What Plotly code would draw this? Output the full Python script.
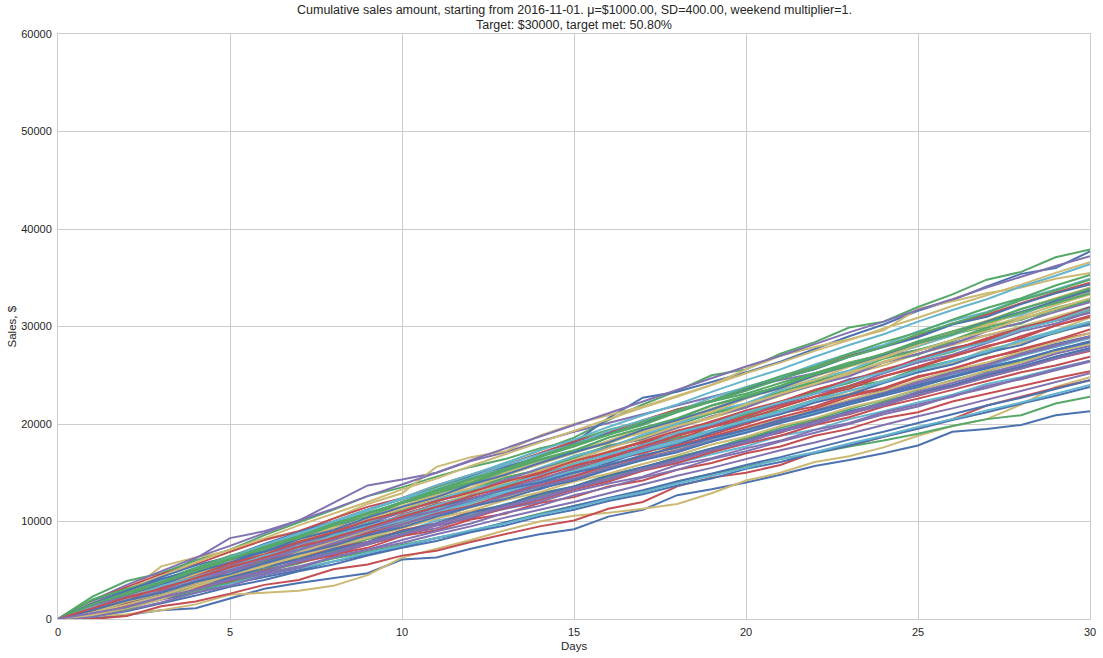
import plotly.graph_objects as go

days = list(range(31))
x_ticks = [0, 5, 10, 15, 20, 25, 30]
y_ticks = [0, 10000, 20000, 30000, 40000, 50000, 60000]
y_tick_labels = ["0", "10000", "20000", "30000", "40000", "50000", "60000"]

# Lines read/ (cumulative sales, $)
L1 = [0, 1500, 3000, 4300, 6200, 8300, 9000, 10100, 11900, 13700, 14300, 15000, 16200, 17100, 18200, 19200, 20100, 21000, 21900, 22800, 23700, 24500, 25200, 26000, 26900, 27600, 28300, 29100, 29800, 30600, 31400]
L2 = [0, 2300, 3900, 4700, 6000, 7100, 8600, 9900, 11200, 12600, 13500, 14600, 15600, 16400, 17500, 18300, 19400, 20300, 21500, 22300, 23100, 24200, 25200, 26300, 27100, 28000, 29200, 30000, 30800, 31700, 32600]
L3 = [0, 1300, 2600, 3800, 5000, 6300, 7500, 8600, 9800, 11200, 12400, 13500, 14700, 16000, 17300, 18600, 20400, 22000, 23400, 25000, 25600, 27200, 28400, 29900, 30500, 32000, 33300, 34800, 35600, 37100, 37900]
L4 = [0, 1100, 2300, 3600, 4800, 5900, 7100, 8200, 9300, 10700, 11900, 12800, 14100, 15400, 16700, 18100, 20600, 22700, 23300, 24300, 25300, 26400, 27700, 29000, 30200, 31600, 32700, 34100, 35400, 36000, 37700]
L5 = [0, 1200, 2500, 3700, 5100, 6300, 7400, 8800, 10300, 11800, 12900, 15600, 16600, 17200, 18800, 20000, 20900, 21800, 22900, 24000, 25600, 27000, 27900, 28700, 29600, 31800, 32600, 33400, 34000, 34900, 35500]
L6 = [0, 1000, 2700, 5400, 6300, 7000, 8200, 9000, 10000, 11200, 12300, 13200, 14100, 15200, 16300, 17100, 18200, 19100, 20200, 21200, 22000, 23100, 24300, 25100, 26000, 27200, 28100, 29100, 30000, 31000, 32000]
B1 = [0, 100, 400, 900, 1100, 2100, 3100, 3700, 4200, 4700, 6100, 6300, 7200, 8000, 8700, 9200, 10500, 11200, 12700, 13300, 14000, 14800, 15700, 16300, 17000, 17800, 19200, 19500, 19900, 20900, 21300]
B2 = [0, 300, 500, 900, 1500, 2500, 2700, 2900, 3400, 4500, 6300, 7200, 8100, 9100, 10000, 10600, 10900, 11300, 11800, 12900, 14200, 15000, 16100, 16700, 17600, 18800, 19800, 20500, 22000, 23800, 24800]
B3 = [0, 600, 1400, 2200, 3100, 3700, 4700, 5300, 6200, 6900, 7600, 8300, 9000, 9900, 10800, 11600, 12300, 13000, 14100, 14900, 15600, 16400, 17000, 17700, 18300, 19000, 19800, 20500, 20900, 22100, 22800]
B4 = [0, 0, 300, 1300, 1800, 2600, 3500, 4000, 5100, 5600, 6500, 7000, 7900, 8700, 9500, 10100, 11300, 12000, 13600, 14500, 15000, 15800, 17100, 17800, 18700, 19600, 20500, 21900, 22800, 23700, 24500]

I1 = [0, 1300, 2100, 3500, 4200, 5600, 6300, 7000, 8400, 9300, 10100, 11500, 12200, 13400, 14100, 15500, 16200, 17400, 18600, 19300, 20700, 21400, 22500, 23800, 24400, 25700, 26500, 27200, 28600, 29300, 30400]
I2 = [0, 800, 2000, 2700, 3900, 4600, 5900, 7200, 7800, 8900, 10200, 11000, 11700, 12900, 14200, 14900, 16300, 17100, 17800, 19200, 20100, 21300, 22400, 23100, 24500, 25300, 26200, 27700, 28300, 29600, 30900]
I3 = [0, 1500, 2400, 3200, 4700, 5900, 6600, 7900, 9100, 9800, 11200, 12400, 13100, 14500, 15300, 16500, 17800, 18400, 19900, 21100, 21800, 23000, 24300, 25100, 26400, 27100, 28500, 29700, 30300, 31800, 32700]
I4 = [0, 600, 1700, 2300, 3100, 4300, 5000, 5800, 6900, 7600, 8700, 9300, 10500, 11300, 12000, 13100, 13900, 14600, 15800, 16500, 17500, 18300, 19400, 20100, 21200, 22000, 22800, 23900, 24600, 25500, 26400]
I5 = [0, 1000, 1800, 3100, 3900, 4800, 6200, 7000, 8300, 9000, 10400, 11300, 12700, 13500, 14700, 15800, 16500, 17900, 18800, 20100, 21200, 22000, 23300, 24600, 25300, 26700, 27800, 28500, 29900, 30700, 32000]
I6 = [0, 1200, 2300, 3200, 4400, 5100, 6000, 7300, 8100, 9400, 10100, 11200, 12000, 13300, 14000, 15100, 16300, 17000, 18100, 18900, 20000, 21100, 21800, 23000, 23700, 24900, 25600, 26800, 27500, 28600, 29300]
I7 = [0, 900, 2200, 3300, 4300, 5500, 6700, 7500, 8800, 10000, 10900, 12200, 13300, 14100, 15500, 16700, 17600, 18900, 20000, 21300, 22100, 23500, 24600, 25500, 26900, 28000, 29100, 30400, 31200, 32600, 33500]
I8 = [0, 700, 1400, 2500, 3300, 4400, 5100, 6300, 7000, 8200, 8900, 9800, 11000, 11700, 12900, 13600, 14800, 15500, 16600, 17400, 18600, 19300, 20500, 21100, 22300, 23200, 23900, 25100, 25800, 26900, 27700]
I9 = [0, 1400, 2600, 3700, 4600, 5900, 7000, 8100, 9300, 10200, 11500, 12600, 13400, 14800, 15900, 17100, 18000, 19300, 20400, 21200, 22600, 23700, 24500, 25900, 26800, 28100, 29300, 30100, 31500, 32400, 33600]
I10 = [0, 1100, 1800, 2900, 3600, 4700, 5500, 6600, 7300, 8500, 9600, 10300, 11500, 12600, 13300, 14400, 15600, 16300, 17500, 18200, 19400, 20500, 21200, 22400, 23500, 24300, 25400, 26100, 27300, 28200, 29000]
I11 = [0, 500, 1300, 2000, 3200, 3900, 5000, 5800, 6500, 7700, 8500, 9600, 10300, 11400, 12200, 13300, 14100, 15200, 16000, 17100, 18000, 18800, 19900, 20700, 21800, 22600, 23500, 24400, 25300, 26000, 26900]
I12 = [0, 1700, 2800, 4000, 5100, 6000, 7300, 8400, 9500, 10700, 11600, 12800, 13900, 15000, 16200, 17100, 18300, 19500, 20300, 21600, 22700, 23700, 24900, 26000, 27000, 28200, 29300, 30300, 31400, 32600, 33800]
I13 = [0, 1000, 2100, 2800, 4000, 5200, 5900, 7100, 8000, 8800, 10000, 10900, 12100, 12900, 14000, 15200, 16000, 17200, 17900, 19100, 20200, 21000, 22200, 23000, 24200, 25300, 26100, 27300, 28100, 29400, 30200]
I14 = [0, 800, 1900, 3000, 3800, 4900, 6100, 6900, 8100, 9200, 10000, 11300, 12400, 13200, 14400, 15300, 16500, 17500, 18400, 19700, 20500, 21700, 22800, 23600, 24900, 25800, 26900, 28000, 28800, 30100, 31100]
I15 = [0, 1300, 2400, 3400, 4500, 5700, 6800, 8000, 9100, 10300, 11300, 12400, 13700, 14700, 15900, 17000, 18200, 19300, 20500, 21400, 22700, 23800, 24900, 26200, 27100, 28400, 29500, 30600, 31800, 32900, 34000]
I16 = [0, 900, 1600, 2600, 3500, 4200, 5300, 6100, 7100, 7900, 9000, 9800, 10900, 11700, 12800, 13600, 14700, 15600, 16500, 17500, 18300, 19400, 20200, 21300, 22100, 23200, 24000, 25000, 25900, 26900, 27800]
I17 = [0, 1100, 2000, 3300, 4100, 5400, 6300, 7400, 8600, 9400, 10700, 11800, 12600, 13900, 14900, 15800, 17100, 18100, 19000, 20300, 21300, 22200, 23500, 24500, 25400, 26700, 27600, 28800, 29800, 30800, 31900]
I18 = [0, 600, 1500, 2400, 3500, 4600, 5400, 6500, 7600, 8400, 9500, 10600, 11400, 12500, 13500, 14400, 15500, 16600, 17400, 18500, 19600, 20400, 21500, 22500, 23400, 24500, 25500, 26300, 27400, 28400, 29300]
I19 = [0, 1200, 2500, 3500, 4800, 5800, 6900, 8200, 9100, 10400, 11500, 12500, 13800, 14800, 16000, 17100, 18100, 19400, 20400, 21500, 22700, 23700, 25000, 26000, 27100, 28300, 29200, 30500, 31500, 32600, 33700]
I20 = [0, 1000, 1700, 2800, 3700, 4900, 5700, 6800, 7700, 8800, 9700, 10800, 11600, 12700, 13700, 14600, 15800, 16600, 17800, 18700, 19700, 20700, 21600, 22800, 23600, 24800, 25700, 26700, 27700, 28600, 29700]
I21 = [0, 400, 1100, 2000, 3300, 4500, 5400, 6800, 8000, 9100, 10500, 11600, 12900, 13900, 15200, 16300, 17500, 18600, 19800, 20700, 22000, 23100, 24100, 25300, 26300, 27500, 28600, 29500, 30800, 31800, 32900]
I22 = [0, 1600, 2900, 4100, 5000, 6100, 6900, 7900, 8700, 9700, 10500, 11500, 12300, 13300, 14000, 15000, 15800, 16800, 17600, 18600, 19400, 20400, 21300, 22200, 23100, 24000, 24900, 25800, 26600, 27600, 28500]
I23 = [0, 800, 2000, 3300, 4400, 5700, 6600, 7900, 8900, 10100, 11000, 12100, 13000, 14100, 15000, 16200, 17100, 18200, 19300, 20200, 21400, 22300, 23500, 24400, 25600, 26500, 27700, 28600, 29800, 30700, 31800]
I24 = [0, 1400, 2300, 3100, 4200, 5000, 6100, 7100, 8100, 9200, 10300, 11100, 12300, 13400, 14300, 15500, 16700, 17500, 18800, 19900, 20800, 22000, 23100, 23900, 25200, 26300, 27100, 28300, 29500, 30300, 31500]
I25 = [0, 700, 1800, 2600, 3700, 4500, 5600, 6400, 7400, 8300, 9300, 10300, 11100, 12200, 13000, 14100, 14900, 15900, 16800, 17900, 18700, 19800, 20600, 21700, 22500, 23600, 24400, 25500, 26300, 27400, 28200]
I26 = [0, 1200, 2100, 3400, 4300, 5300, 6500, 7300, 8600, 9500, 10600, 11700, 12600, 13800, 14700, 15900, 16900, 17800, 19100, 20000, 21200, 22200, 23100, 24400, 25300, 26500, 27500, 28400, 29700, 30600, 31800]
I27 = [0, 900, 1900, 2700, 3800, 4600, 5700, 6700, 7500, 8600, 9400, 10500, 11500, 12300, 13400, 14200, 15300, 16300, 17100, 18200, 19100, 20100, 21000, 22000, 22900, 23800, 24800, 25700, 26600, 27600, 28400]
I28 = [0, 1500, 2700, 3800, 5100, 6200, 7400, 8500, 9700, 10800, 12000, 13200, 14300, 15400, 16600, 17700, 18900, 19900, 21200, 22300, 23400, 24600, 25700, 26900, 27900, 29200, 30300, 31400, 32700, 33700, 34800]
I29 = [0, 1100, 2200, 3100, 4200, 5300, 6300, 7400, 8300, 9400, 10500, 11500, 12600, 13500, 14600, 15700, 16600, 17700, 18800, 19700, 20800, 21900, 22800, 23900, 24900, 25900, 27000, 27900, 29000, 30100, 31000]
I30 = [0, 600, 1200, 2200, 3000, 4000, 4800, 5900, 6700, 7700, 8600, 9600, 10400, 11500, 12300, 13400, 14300, 15300, 16200, 17300, 18200, 19300, 20200, 21200, 22100, 23300, 24200, 25200, 26100, 27200, 28000]

J1 = [0, 400, 1500, 2300, 3000, 4100, 4700, 5900, 6600, 7300, 8500, 9100, 10200, 10800, 11900, 12500, 13600, 14200, 15300, 16000, 17000, 17700, 18800, 19500, 20600, 21200, 22300, 23100, 23900, 24700, 25400]
J2 = [0, 1300, 1900, 3100, 3700, 4900, 5400, 6500, 7200, 8300, 8900, 10100, 10700, 11800, 12400, 13600, 14200, 15300, 16000, 16900, 17700, 18800, 19400, 20500, 21300, 22200, 23000, 24100, 24800, 25700, 26500]
J3 = [0, 1900, 3300, 4600, 5600, 6900, 8100, 9000, 10300, 11500, 12400, 13700, 14800, 15800, 17000, 18200, 19100, 20400, 21500, 22400, 23700, 24800, 25700, 27000, 28000, 29000, 30300, 31200, 32400, 33500, 34500]
J4 = [0, 700, 1600, 2900, 3600, 5000, 5800, 7100, 8100, 9300, 10500, 11300, 12700, 13800, 14700, 16100, 17200, 18200, 19600, 20600, 21700, 22900, 24100, 25100, 26400, 27500, 28600, 29900, 31000, 32200, 33300]
J5 = [0, 1100, 2600, 3400, 4700, 5500, 6800, 7900, 8700, 10100, 11100, 12000, 13400, 14500, 15300, 16700, 17700, 18700, 20000, 21100, 22100, 23300, 24400, 25300, 26700, 27600, 28600, 29900, 30700, 31900, 32800]
J6 = [0, 200, 900, 1700, 2700, 3400, 4500, 5200, 6400, 7100, 8100, 9000, 9800, 10900, 11600, 12700, 13500, 14500, 15300, 16400, 17200, 18200, 19100, 20000, 21000, 21800, 22900, 23700, 24700, 25600, 26500]
J7 = [0, 1800, 2900, 4300, 5500, 6400, 7700, 8900, 10000, 11200, 12300, 13200, 14600, 15600, 16600, 18000, 19000, 20000, 21400, 22300, 23500, 24700, 25600, 26900, 27900, 28900, 30200, 31000, 32300, 33400, 34300]
J8 = [0, 900, 1700, 2400, 3600, 4200, 5400, 6100, 7300, 7900, 9100, 9800, 11000, 11600, 12800, 13500, 14600, 15400, 16500, 17200, 18400, 19100, 20300, 21000, 22100, 22900, 23900, 24800, 25700, 26700, 27500]
J9 = [0, 1400, 2900, 3900, 5300, 6400, 7600, 8800, 9800, 11100, 12300, 13300, 14500, 15800, 16900, 17900, 19300, 20400, 21300, 22700, 23800, 24800, 26100, 27200, 28100, 29500, 30600, 31500, 32800, 33800, 34900]
J10 = [0, 500, 1000, 2100, 2900, 3800, 4900, 5700, 6800, 7700, 8700, 9800, 10600, 11700, 12600, 13600, 14600, 15500, 16600, 17500, 18500, 19600, 20500, 21500, 22500, 23500, 24500, 25400, 26500, 27400, 28400]
J11 = [0, 1000, 2200, 3400, 4300, 5600, 6400, 7700, 8900, 9700, 11000, 12100, 12900, 14300, 15400, 16200, 17600, 18500, 19600, 20800, 21700, 23000, 24000, 24900, 26300, 27200, 28200, 29500, 30400, 31500, 32500]
J12 = [0, 1200, 2000, 3000, 4100, 4800, 5900, 6900, 7700, 8800, 9700, 10600, 11700, 12500, 13600, 14400, 15400, 16400, 17300, 18300, 19200, 20300, 21100, 22200, 23100, 24000, 25100, 25900, 27000, 27900, 28800]
J13 = [0, 600, 1900, 2700, 4000, 5000, 6000, 7300, 8200, 9300, 10500, 11400, 12600, 13700, 14600, 15900, 16900, 17800, 19100, 20100, 21000, 22300, 23300, 24200, 25500, 26500, 27400, 28700, 29700, 30600, 31700]
J14 = [0, 1600, 2400, 3500, 4300, 5400, 6200, 7200, 8200, 9000, 10100, 10900, 12000, 12800, 13900, 14700, 15800, 16600, 17600, 18500, 19500, 20400, 21400, 22300, 23300, 24200, 25200, 26100, 27100, 28000, 29000]
J15 = [0, 800, 1500, 2800, 3500, 4700, 5700, 6600, 7900, 8800, 9800, 11000, 11900, 13000, 14100, 15000, 16200, 17200, 18100, 19300, 20300, 21200, 22400, 23400, 24300, 25500, 26500, 27400, 28600, 29600, 30500]
J16 = [0, 1300, 2700, 3700, 5000, 6200, 7100, 8500, 9600, 10500, 11900, 12900, 13900, 15200, 16300, 17200, 18600, 19600, 20500, 21900, 22900, 23900, 25200, 26200, 27200, 28500, 29500, 30500, 31800, 32800, 33900]
J17 = [0, 300, 1200, 2200, 3000, 4100, 4900, 6000, 6800, 7900, 8700, 9800, 10600, 11600, 12500, 13500, 14400, 15400, 16300, 17300, 18100, 19200, 20000, 21100, 21900, 23000, 23800, 24800, 25700, 26700, 27600]
J18 = [0, 1100, 1900, 3100, 4000, 5100, 6200, 7000, 8200, 9200, 10100, 11300, 12200, 13200, 14300, 15200, 16300, 17400, 18300, 19400, 20400, 21300, 22500, 23400, 24400, 25500, 26400, 27500, 28500, 29400, 30500]
J19 = [0, 2000, 3100, 4000, 5200, 6500, 7400, 8600, 9800, 10800, 12000, 13100, 14000, 15300, 16400, 17300, 18600, 19600, 20600, 21900, 22800, 23900, 25100, 26000, 27200, 28300, 29200, 30400, 31400, 32400, 33400]
J20 = [0, 900, 2000, 2800, 3900, 4900, 5700, 6800, 7800, 8600, 9700, 10700, 11500, 12600, 13600, 14400, 15500, 16500, 17300, 18500, 19400, 20200, 21400, 22300, 23100, 24300, 25200, 26000, 27200, 28100, 28900]
J21 = [0, 1200, 2600, 3900, 5000, 6300, 7600, 8700, 10000, 11200, 12400, 13700, 14800, 16000, 17300, 18400, 19700, 20900, 22000, 23300, 24500, 25600, 26900, 28100, 29200, 30500, 31700, 32800, 34100, 35200, 36400]
J22 = [0, 1500, 2500, 3700, 4900, 6100, 7300, 8300, 9600, 10900, 11900, 13200, 14400, 15400, 16700, 17900, 18900, 20200, 21400, 22400, 23700, 24900, 25900, 27200, 28400, 29400, 30700, 31900, 32900, 34200, 35300]

K1 = [0, 300, 800, 1600, 2400, 3300, 4000, 4900, 5600, 6500, 7300, 8000, 8900, 9600, 10500, 11200, 12100, 12800, 13700, 14400, 15400, 16100, 17000, 17800, 18700, 19500, 20400, 21200, 22100, 22900, 23800]
K2 = [0, 900, 1500, 2100, 3000, 3600, 4500, 5200, 5900, 6800, 7500, 8300, 9100, 9800, 10700, 11400, 12300, 13000, 13900, 14700, 15500, 16400, 17100, 18000, 18800, 19700, 20500, 21400, 22200, 23100, 24000]
K3 = [0, 1900, 3500, 4900, 6300, 7500, 8800, 10100, 11300, 12600, 13800, 15000, 16300, 17500, 18700, 19900, 21100, 22300, 23500, 24700, 25900, 27000, 28200, 29400, 30500, 31700, 32800, 34000, 35100, 36200, 37200]
K4 = [0, 1600, 3000, 4400, 5800, 7100, 8300, 9600, 10800, 12000, 13300, 14400, 15700, 16900, 18100, 19300, 20500, 21700, 22800, 24000, 25200, 26300, 27500, 28600, 29800, 30900, 32100, 33200, 34300, 35500, 36600]
K5 = [0, 700, 1200, 2000, 2700, 3600, 4300, 5000, 5900, 6600, 7400, 8300, 9000, 9900, 10700, 11600, 12400, 13200, 14100, 14900, 15800, 16600, 17500, 18400, 19200, 20100, 21000, 21900, 22700, 23600, 24500]
K6 = [0, 400, 1400, 2100, 3000, 3800, 4700, 5400, 6300, 7100, 7800, 8700, 9500, 10400, 11200, 12000, 12900, 13800, 14700, 15500, 16400, 17300, 18100, 19000, 19900, 20800, 21600, 22500, 23400, 24300, 25200]

BLUE, GREEN, RED, PURPLE, YELLOW, CYAN = "#4C72B0", "#55A868", "#C44E52", "#8172B2", "#CCB974", "#64B5CD"
cycle = [BLUE, GREEN, RED, PURPLE, YELLOW, CYAN]

interior = [K1, I1, J1, K3, I2, J2, K5, I3, J3, I4, J4, K2, I5, J5, I6, J6, K4, I7, J7, I8, J8,
            K6, I9, J9, I10, J10, I11, J11, I12, J12, I13, J13, I14, J14, I15, J15, I16, J16,
            I17, J17, I18, J18, I19, J19, I20, J20, I21, J21, I22, J22, I23, I24, I25, I26,
            I27, I28, I29, I30]
envelope = [(L1, PURPLE), (L2, GREEN), (L3, GREEN), (L4, BLUE), (L5, YELLOW), (L6, YELLOW),
            (B1, BLUE), (B2, YELLOW), (B3, GREEN), (B4, RED)]

fig = go.Figure()
for s, c in envelope:
    fig.add_trace(go.Scatter(x=days, y=s, mode="lines", line=dict(color=c, width=2),
                             showlegend=False, hoverinfo="skip"))
for i, s in enumerate(interior):
    fig.add_trace(go.Scatter(x=days, y=s, mode="lines", line=dict(color=cycle[i % 6], width=2),
                             showlegend=False, hoverinfo="skip"))

axis_common = dict(showgrid=True, gridcolor="#cccccc", gridwidth=1, zeroline=False,
                   showline=True, linecolor="#cccccc", linewidth=1, mirror=True,
                   ticks="", automargin=False, ticklabelstandoff=3,
                   tickfont=dict(size=11, color="#262626"))

title_l1 = "Cumulative sales amount, starting from 2016-11-01. \u03bc=$1000.00, SD=400.00, weekend multiplier=1."
title_l2 = "Target: $30000, target met: 50.80%"

ann_font = dict(size=12.5, color="#262626")
fig.update_layout(
    width=1103, height=658,
    margin=dict(l=58, r=13, t=34, b=39),
    paper_bgcolor="white", plot_bgcolor="white",
    font=dict(family="Liberation Sans, Arial, sans-serif", color="#262626"),
    xaxis=dict(range=[0, 30], tickvals=x_ticks, **axis_common),
    yaxis=dict(range=[0, 60000], tickvals=y_ticks, ticktext=y_tick_labels, **axis_common),
    annotations=[
        dict(text=title_l1, xref="paper", yref="paper", x=0.5, y=1.041, xanchor="center",
             yanchor="middle", showarrow=False, font=ann_font),
        dict(text=title_l2, xref="paper", yref="paper", x=0.5, y=1.0154, xanchor="center",
             yanchor="middle", showarrow=False, font=ann_font),
        dict(text="Days", xref="paper", yref="paper", x=0.5, y=-0.046, xanchor="center",
             yanchor="middle", showarrow=False, font=dict(size=11.5, color="#262626")),
        dict(text="Sales, $", xref="paper", yref="paper", x=-0.0446, y=0.5, xanchor="center",
             yanchor="middle", textangle=-90, showarrow=False, font=dict(size=11.5, color="#262626")),
    ],
)

fig.write_html("out.html", config={"displayModeBar": False},
               post_script="document.body.style.margin='0';document.body.style.padding='0';")
